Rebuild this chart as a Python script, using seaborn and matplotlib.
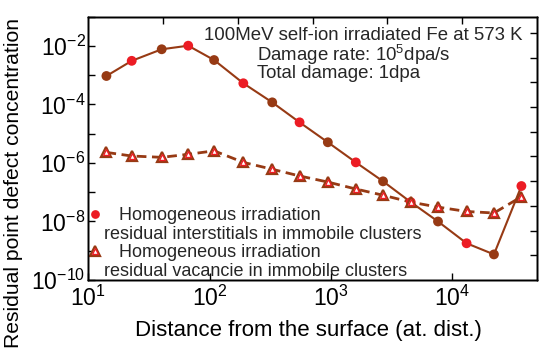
import matplotlib
matplotlib.use("Agg")
import matplotlib.pyplot as plt
import seaborn as sns
import numpy as np
import pandas as pd
from matplotlib.lines import Line2D
from matplotlib.ticker import FixedLocator, FuncFormatter, NullLocator

sns.set_theme(style="ticks")
plt.rcParams['font.family'] = ['Liberation Sans', 'DejaVu Sans']
plt.rcParams['mathtext.fontset'] = 'custom'
plt.rcParams['mathtext.rm'] = 'Liberation Sans'
plt.rcParams['mathtext.it'] = 'Liberation Sans:italic'
plt.rcParams['axes.unicode_minus'] = False

# distance from surface (at. dist.)
distance = [14.1, 22.8, 40.3, 66.7, 109, 190, 329, 553, 946, 1610,
            2700, 4570, 7670, 13200, 22200, 37400]
# residual interstitials in immobile clusters
interstitials = [9.4e-4, 3.1e-3, 7.7e-3, 1.02e-2, 3.3e-3, 5.3e-4, 1.18e-4,
                 2.45e-5, 5.1e-6, 1.05e-6, 2.36e-7, 4.6e-8, 1.0e-8, 1.8e-9,
                 7.5e-10, 1.63e-7]
# residual vacancies in immobile clusters
vacancies = [2.3e-6, 1.73e-6, 1.56e-6, 1.98e-6, 2.6e-6, 1.05e-6, 6.1e-7,
             3.6e-7, 2.23e-7, 1.29e-7, 7.9e-8, 4.6e-8, 3.1e-8, 2.2e-8,
             1.95e-8, 7.0e-8]

label_int = ["   Homogeneous irradiation",
             "residual interstitials in immobile clusters"]
label_vac = ["   Homogeneous irradiation",
             "residual vacancie in immobile clusters"]

BROWN = '#973a14'
RED = '#ec1c24'

df = pd.DataFrame({'x': distance, 'int': interstitials, 'vac': vacancies})
df['shade'] = ['b' if i % 2 == 0 else 'r' for i in range(len(df))]

fig = plt.figure(figsize=(5.5, 3.62), dpi=100)
ax = fig.add_axes([0.1606, 0.2265, 0.8152, 0.7274])

# lines
sns.lineplot(data=df, x='x', y='int', ax=ax, color=BROWN, lw=1.5, zorder=2)
sns.lineplot(data=df, x='x', y='vac', ax=ax, color=BROWN, lw=2.0,
             dashes=False, zorder=2)
ax.lines[-1].set_dashes([3.5, 2])

# circle markers, alternating brown / red
sns.scatterplot(data=df, x='x', y='int', hue='shade',
                palette={'b': BROWN, 'r': RED}, s=50, edgecolor='none',
                ax=ax, legend=False, zorder=3)
# triangle markers: brown outline with red inner outline
ax.plot(df['x'], df['vac'], ls='none', marker='^', ms=7.2, mfc='white',
        mec=BROWN, mew=1.6, zorder=3)
ax.plot(df['x'], df['vac'], ls='none', marker='^', ms=4.4, mfc='white',
        mec=RED, mew=1.0, zorder=4)

ax.set_xscale('log')
ax.set_yscale('log')
ax.set_xlim(10, 5e4)
ax.set_ylim(1e-10, 1e-1)

ax.xaxis.set_major_locator(FixedLocator([1e1, 1e2, 1e3, 1e4]))
ax.xaxis.set_minor_locator(NullLocator())
ax.xaxis.set_major_formatter(FuncFormatter(
    lambda v, p: r'$\mathregular{10^{%d}}$' % round(np.log10(v))))
ax.yaxis.set_major_locator(FixedLocator([10.0 ** k for k in range(-10, 0)]))
ax.yaxis.set_minor_locator(NullLocator())

def ylab(v, p):
    k = round(np.log10(v))
    return r'$\mathregular{10^{%d}}$' % k if k % 2 == 0 else ''

ax.yaxis.set_major_formatter(FuncFormatter(ylab))
ax.tick_params(direction='in', length=5, width=1, labelsize=16.5,
               colors='black', pad=2)
ax.tick_params(axis='x', pad=4)
for s in ax.spines.values():
    s.set_color('black')
    s.set_linewidth(1.0)

ax.set_xlabel('Distance from the surface (at. dist.)', fontsize=16,
              color='black')
ax.set_ylabel('Residual point defect concentration', fontsize=15.2,
              color='black')
ax.xaxis.set_label_coords(0.491, -0.152)
ax.yaxis.set_label_coords(-0.146, 0.368)

# extra ticks on the top and right frame
axr = ax.twinx()
axr.set_ylim(0, 10.66)
axr.yaxis.set_major_locator(FixedLocator(list(range(1, 11))))
axr.tick_params(axis='y', direction='in', length=5, width=1,
                labelright=False, colors='black')
axt = ax.twiny()
axt.set_xlim(0, 6)
axt.xaxis.set_major_locator(FixedLocator([1, 2, 3, 4, 5]))
axt.tick_params(axis='x', direction='in', length=5, width=1,
                labeltop=False, colors='black')
for a in (axr, axt):
    for s in a.spines.values():
        s.set_color('black')
        s.set_linewidth(1.0)

ax.text(0.258, 0.930, '100MeV self-ion irradiated Fe at 573 K',
        transform=ax.transAxes, fontsize=13.4, va='center', ha='left')
ax.text(0.376, 0.855, r'Damage rate: $\mathregular{10^5}$dpa/s',
        transform=ax.transAxes, fontsize=13.4, va='center', ha='left')
ax.text(0.376, 0.786, 'Total damage: 1dpa',
        transform=ax.transAxes, fontsize=13.4, va='center', ha='left')

# legend
h_int = Line2D([], [], ls='none', marker='o', ms=6.3, mfc=RED, mec='none')
h_vac = (Line2D([], [], ls='none', marker='^', ms=7.2, mfc='white',
                mec=BROWN, mew=1.6),
         Line2D([], [], ls='none', marker='^', ms=4.4, mfc='white',
                mec=RED, mew=1.0))
h_blank = Line2D([], [], ls='none')
leg = ax.legend([h_int, h_blank, h_vac, h_blank],
                [label_int[0], label_int[1], label_vac[0], label_vac[1]],
                loc='lower left', bbox_to_anchor=(0.0, 0.0),
                frameon=False, fontsize=13, handlelength=0.7,
                handletextpad=0.15, labelspacing=0.085, borderpad=0.0,
                borderaxespad=0.0)

fig.savefig('out.png', dpi=100)
